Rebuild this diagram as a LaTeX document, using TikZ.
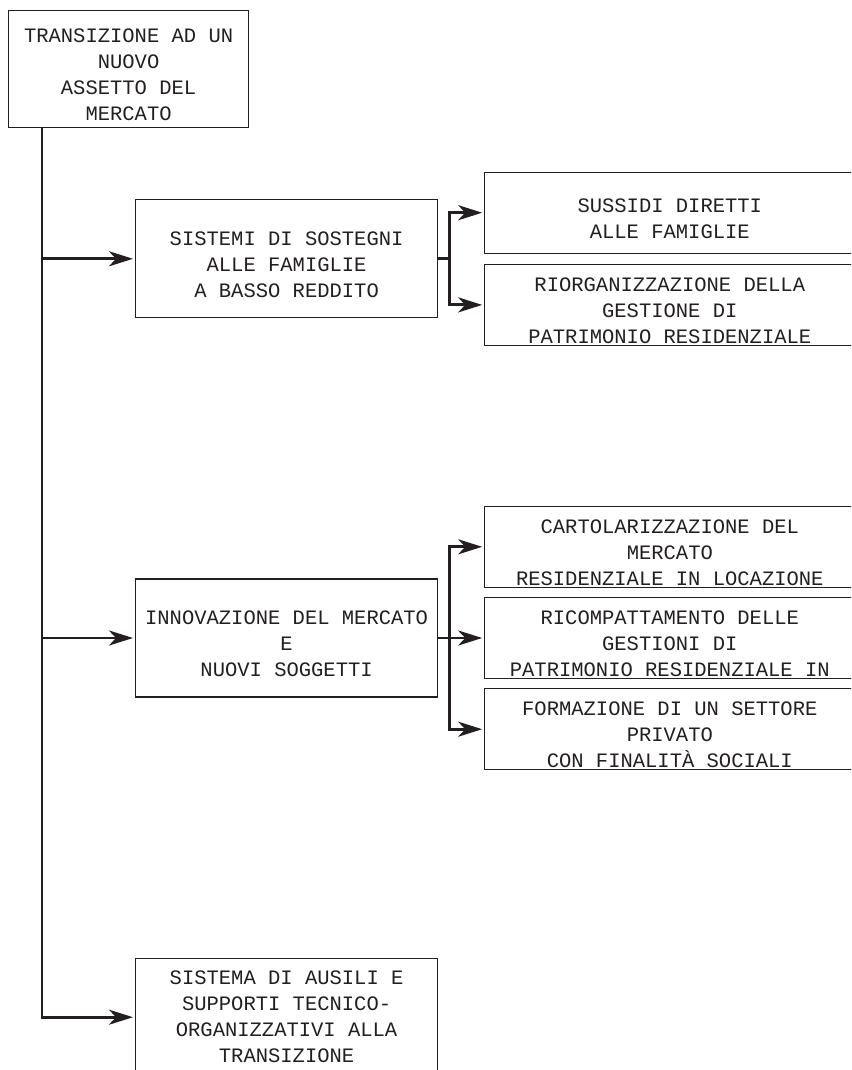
\documentclass[tikz,border=0pt]{standalone}
\usepackage{fontspec}
\setmonofont{Liberation Mono}
\usepackage{tikz}
\usetikzlibrary{positioning,arrows.meta,calc}
\definecolor{inkgray}{RGB}{35, 31, 32}
\newcommand{\topgap}{\rule{0pt}{12.5pt}}

\begin{document}
\begin{tikzpicture}[
    font=\ttfamily\fontsize{10.25pt}{13pt}\selectfont,
    box/.style={draw=inkgray, line width=0.6pt, align=center, inner sep=0pt,
        minimum width=151pt, minimum height=59pt, text=inkgray},
    subbox/.style={box, minimum width=185pt, minimum height=40.5pt},
    link/.style={draw=inkgray, line width=1.45pt},
    arrow/.style={link, -{Stealth[length=12pt, width=7.5pt, inset=3.5pt]}, shorten >=1pt}
]
\useasboundingbox (0,0) rectangle (425.5pt,-535pt);
\clip (0,0) rectangle (425.5pt,-535pt);
\node[box, minimum width=120pt, minimum height=58.5pt, anchor=north west] (root) at (4pt,-5pt)
    {\topgap TRANSIZIONE AD UN\\NUOVO\\ASSETTO DEL\\MERCATO};
\node[box, below right=35.5pt and 63.5pt of root.south west] (sostegni)
    {\topgap SISTEMI DI SOSTEGNI\\ALLE FAMIGLIE\\A BASSO REDDITO};
\node[box, below=130pt of sostegni] (innov)
    {\topgap INNOVAZIONE DEL MERCATO\\E\\NUOVI SOGGETTI};
\node[box, below=130pt of innov] (ausili)
    {SISTEMA DI AUSILI E\\SUPPORTI TECNICO-\\ORGANIZZATIVI ALLA\\TRANSIZIONE};
\node[subbox, above right=2.5pt and 23pt of sostegni.east] (sussidi)
    {\topgap SUSSIDI DIRETTI\\ALLE FAMIGLIE};
\node[subbox, below right=2.5pt and 23pt of sostegni.east] (riorg)
    {\topgap RIORGANIZZAZIONE DELLA\\GESTIONE DI\\PATRIMONIO RESIDENZIALE};
\node[subbox, right=23pt of innov] (ricomp)
    {\topgap RICOMPATTAMENTO DELLE\\GESTIONI DI\\PATRIMONIO RESIDENZIALE IN};
\node[subbox, above=4.5pt of ricomp] (cartol)
    {\topgap CARTOLARIZZAZIONE DEL\\MERCATO\\RESIDENZIALE IN LOCAZIONE};
\node[subbox, below=4.5pt of ricomp] (formaz)
    {\topgap FORMAZIONE DI UN SETTORE\\PRIVATO\\CON FINALITÀ SOCIALI};
% main trunk
\coordinate (trunk) at ([xshift=17pt]root.south west);
\draw[arrow] (trunk) |- (ausili.west);
\draw[arrow] (trunk |- sostegni.west) -- (sostegni.west);
\draw[arrow] (trunk |- innov.west) -- (innov.west);
% forks to the right
\draw[link] (sostegni.east) -- ++(5.5pt,0) coordinate (forkA);
\draw[arrow] (forkA) |- (sussidi.west);
\draw[arrow] (forkA) |- (riorg.west);
\draw[link] (innov.east) -- ++(5.5pt,0) coordinate (forkB);
\draw[arrow] (forkB) |- (cartol.west);
\draw[arrow] (forkB) -- (ricomp.west);
\draw[arrow] (forkB) |- (formaz.west);
\end{tikzpicture}
\end{document}
